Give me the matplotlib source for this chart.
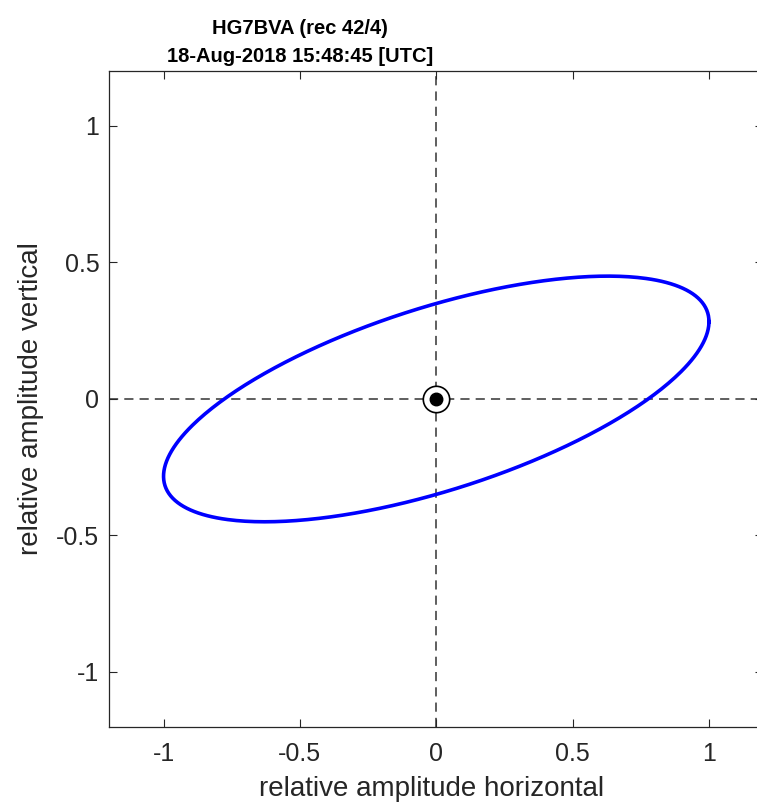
import numpy as np
import matplotlib
matplotlib.use('Agg')
import matplotlib.pyplot as plt

# polarisation ellipse parameters
station = 'HG7BVA (rec 42/4)'
timestamp = '18-Aug-2018 15:48:45 [UTC]'
amp_horizontal = 1.0
amp_vertical = 0.45
phase_deg = 51.0
tick_values = [-1, -0.5, 0, 0.5, 1]
tick_labels = ['-1', '-0.5', '0', '0.5', '1']

plt.rcParams['font.family'] = ['Liberation Sans', 'DejaVu Sans']

fig = plt.figure(figsize=(7.57, 8.08), dpi=100)
ax = fig.add_axes([109 / 757, 81.5 / 808, 654.5 / 757, 655.1 / 808])

t = np.linspace(0, 2 * np.pi, 400)
x = amp_horizontal * np.cos(t)
y = amp_vertical * np.cos(t - np.deg2rad(phase_deg))

ax.axhline(0, color='#333333', linestyle=(0, (6, 4)), linewidth=1.1, zorder=1)
ax.axvline(0, color='#333333', linestyle=(0, (6, 4)), linewidth=1.1, zorder=1)
ax.plot(x, y, color='#0000ff', linewidth=2.6, zorder=2)
ax.plot([0], [0], marker='o', markersize=19, markerfacecolor='white',
        markeredgecolor='black', markeredgewidth=1.2, zorder=3)
ax.plot([0], [0], marker='o', markersize=9, color='black', zorder=4)

ax.set_xlim(-1.2, 1.2)
ax.set_ylim(-1.2, 1.2)
ax.set_xticks(tick_values)
ax.set_xticklabels(tick_labels)
ax.set_yticks(tick_values)
ax.set_yticklabels(tick_labels)
ax.tick_params(direction='in', length=6, width=0.8, top=True, right=True,
               labelsize=18, colors='#262626')
ax.tick_params(axis='x', pad=11)
ax.tick_params(axis='y', pad=7)
for sp in ax.spines.values():
    sp.set_color('#262626')
    sp.set_linewidth(0.9)

ax.set_xlabel('relative amplitude horizontal', fontsize=20, color='#262626')
ax.set_ylabel('relative amplitude vertical', fontsize=20, color='#262626')
ax.xaxis.set_label_coords((432 - 109) / 654.5, (726.5 - 776) / 655.1)
ax.yaxis.set_label_coords((44 - 109) / 654.5, 0.5)

ax.set_title(station + '\n' + timestamp, fontsize=14.5, fontweight='bold',
             color='black', pad=7, x=(300 - 109) / 654.5, linespacing=1.6)

fig.savefig('out.png', dpi=100)
